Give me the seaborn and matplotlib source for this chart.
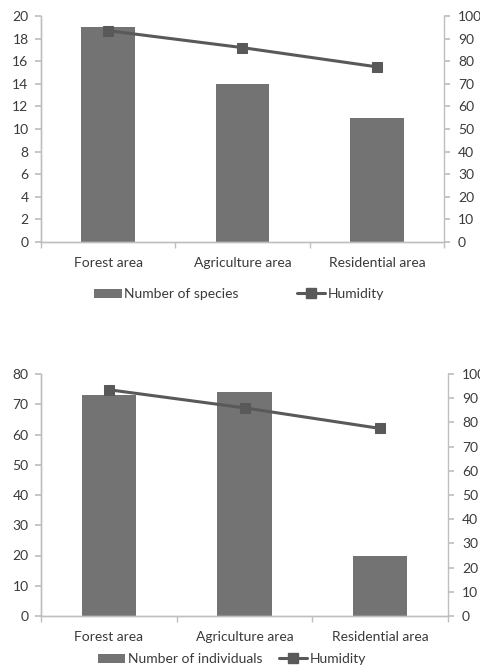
import matplotlib
matplotlib.use("Agg")
import matplotlib.pyplot as plt
import seaborn as sns
import pandas as pd
from matplotlib.patches import Patch
from matplotlib.lines import Line2D

# Study sites
areas = ["Forest area", "Agriculture area", "Residential area"]
# Counts per site
species = [19, 14, 11]
individuals = [73, 74, 20]
# Relative humidity (%) per site
humidity = [93.5, 86, 77.5]

sns.set_theme(style="white")
plt.rcParams["font.family"] = ["Lato", "DejaVu Sans"]

BAR = "#737373"
LINE = "#595959"
SPINE = "#bfbfbf"
TXT = "#3a3a3a"
FS = 10

fig = plt.figure(figsize=(4.81, 6.66), dpi=100)


def panel(rect, counts, ymax, ystep, label, legend_y, legend_x, colspace):
    ax = fig.add_axes(rect)
    df = pd.DataFrame({"area": areas, "count": counts})
    sns.barplot(data=df, x="area", y="count", color=BAR, width=0.4,
                saturation=1, ax=ax, edgecolor="none")
    ax.set_ylim(0, ymax)
    ax.set_yticks(range(0, ymax + 1, ystep))
    ax.set_xlim(-0.5, 2.5)
    ax.set_xlabel("")
    ax.set_ylabel("")

    ax2 = ax.twinx()
    hd = pd.DataFrame({"area": areas, "humidity": humidity})
    sns.lineplot(data=hd, x="area", y="humidity", color=LINE, lw=2.2,
                 marker="s", markersize=7, markeredgecolor=LINE, ax=ax2,
                 sort=False)
    ax2.set_ylim(0, 100)
    ax2.set_yticks(range(0, 101, 10))
    ax2.set_xlim(-0.5, 2.5)
    ax2.set_ylabel("")
    ax2.set_xlabel("")

    for a in (ax, ax2):
        for s in a.spines.values():
            s.set_color(SPINE)
            s.set_linewidth(1)
        a.spines["top"].set_visible(False)
    ax.spines["right"].set_visible(False)

    ax.set_xticks([-0.5, 0.5, 1.5, 2.5], minor=True)
    ax.tick_params(axis="x", which="minor", bottom=True, length=4,
                   color=SPINE, direction="out")
    ax.tick_params(axis="x", which="major", bottom=False, length=0,
                   labelsize=FS, labelcolor=TXT, pad=11)
    ax.tick_params(axis="y", left=True, length=4, color=SPINE,
                   direction="out", labelsize=FS, labelcolor=TXT, pad=5)
    ax2.tick_params(axis="y", right=True, length=4, color=SPINE,
                    direction="out", labelsize=FS, labelcolor=TXT, pad=6)

    handles = [
        Patch(facecolor=BAR, edgecolor="none", label=label),
        Line2D([], [], color=LINE, lw=2.2, marker="s", markersize=7,
               label="Humidity"),
    ]
    fig.legend(handles=handles, loc="center", ncol=2, frameon=False,
               bbox_to_anchor=(legend_x, legend_y), fontsize=FS,
               labelcolor=TXT, handlelength=2.0, handleheight=0.6,
               handletextpad=0.2, columnspacing=colspace)
    return ax, ax2


panel([41 / 481, 1 - 242 / 666, (444 - 41) / 481, (242 - 16) / 666],
      species, 20, 2, "Number of species", 1 - 294 / 666, 239 / 481, 4.2)
panel([41 / 481, 1 - 616 / 666, (448 - 41) / 481, (616 - 374) / 666],
      individuals, 80, 10, "Number of individuals", 1 - 659 / 666,
      232 / 481, 1.2)

fig.savefig("out.png", dpi=100, facecolor="white")
